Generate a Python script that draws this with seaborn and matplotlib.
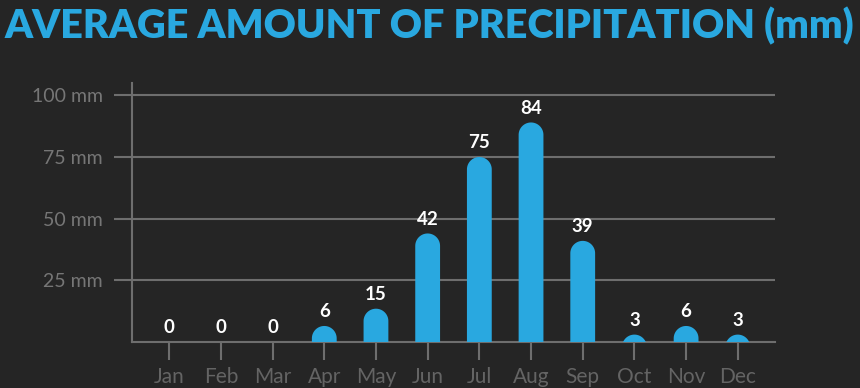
import matplotlib
matplotlib.use("Agg")
import matplotlib.pyplot as plt
import seaborn as sns
import numpy as np
import pandas as pd
from matplotlib.path import Path
from matplotlib.patches import PathPatch

months = ["Jan", "Feb", "Mar", "Apr", "May", "Jun", "Jul", "Aug", "Sep", "Oct", "Nov", "Dec"]
# value labels as printed on the chart
precip_labels = [0, 0, 0, 6, 15, 42, 75, 84, 39, 3, 6, 3]
bar_heights = [0, 0, 0, 6.5, 13.5, 44, 75, 89, 41, 3, 6.5, 3]
yticks = [25, 50, 75, 100]
ytick_labels = ["25 mm", "50 mm", "75 mm", "100 mm"]
title = "AVERAGE AMOUNT OF PRECIPITATION (mm)"

BG = "#252525"
BLUE = "#29a8e0"
GRID = "#6e6e6e"
YTXT = "#767676"
XTXT = "#646464"

sns.set_theme(style="dark")
plt.rcParams["font.family"] = ["Lato", "DejaVu Sans"]

W, H, DPI = 860, 388, 100
fig = plt.figure(figsize=(W / DPI, H / DPI), dpi=DPI, facecolor=BG)
ax = fig.add_axes([132 / W, (H - 342) / H, (775 - 132) / W, (342 - 83) / H])
ax.set_facecolor(BG)

df = pd.DataFrame({"month": months, "precip": bar_heights})
sns.barplot(data=df, x="month", y="precip", color=BLUE, width=0.48, ax=ax,
            saturation=1, errorbar=None)

ax.set_xlim(-0.72, 11.72)
ax.set_ylim(0, 105)
ax.set_xlabel("")
ax.set_ylabel("")
ax.set_yticks(yticks)
ax.set_yticklabels(ytick_labels)

for s in ["top", "right"]:
    ax.spines[s].set_visible(False)
for s in ["left", "bottom"]:
    ax.spines[s].set_visible(True)
    ax.spines[s].set_color(GRID)
    ax.spines[s].set_linewidth(1.5)

ax.grid(False)
ax.yaxis.grid(True, color=GRID, linewidth=1.5)
ax.set_axisbelow(True)
ax.tick_params(axis="y", length=13, width=1.5, color=GRID, labelcolor=YTXT,
               labelsize=14, pad=8, left=True)
ax.tick_params(axis="x", length=13, width=1.5, color=GRID, labelcolor=XTXT,
               labelsize=15, pad=5, bottom=True)

# rounded-top bars
fig.canvas.draw()
p0 = ax.transData.transform((0, 0))
p1 = ax.transData.transform((1, 1))
sx, sy = p1[0] - p0[0], p1[1] - p0[1]
for patch in list(ax.patches):
    x0 = patch.get_x()
    w = patch.get_width()
    h = patch.get_height()
    patch.set_visible(False)
    if h <= 0:
        continue
    rx = w / 2
    ry = (w * sx / 2) / sy
    cx = x0 + rx
    cy = h - ry
    t = np.linspace(0, np.pi, 60)
    arc = np.column_stack([cx + rx * np.cos(t), cy + ry * np.sin(t)])
    low = min(cy, 0) - 5
    verts = np.vstack([[x0 + w, low], arc, [x0, low], [x0 + w, low]])
    codes = [Path.MOVETO] + [Path.LINETO] * (len(verts) - 2) + [Path.CLOSEPOLY]
    ax.add_patch(PathPatch(Path(verts, codes), facecolor=BLUE, edgecolor="none", zorder=3))

for i, (v, lab) in enumerate(zip(bar_heights, precip_labels)):
    ax.annotate(str(lab), (i, v), xytext=(0, 4), textcoords="offset points",
                ha="center", va="bottom", color="white", fontsize=13.5,
                fontweight="bold", zorder=4)

# title
t = fig.text(5 / W, 1 - 7 / H, title, color=BLUE, fontsize=27, fontweight="heavy",
             ha="left", va="top", family=["Lato", "DejaVu Sans"])
fig.canvas.draw()
bb = t.get_window_extent()
t.set_fontsize(27 * 850 / bb.width)

fig.savefig("out.png", dpi=DPI, facecolor=BG)
